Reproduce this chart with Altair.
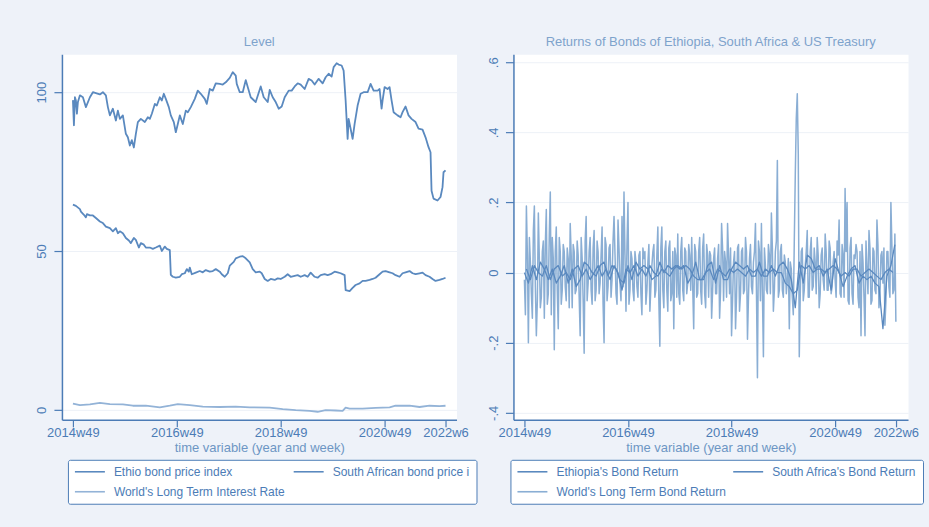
import altair as alt
import pandas as pd

# ---------------------------------------------------------------
# Styling
# ---------------------------------------------------------------
FONT = "Liberation Sans"
BG = "#eef2f9"
AXIS_BLUE = "#4c7cb6"
TITLE_BLUE = "#7ea3cc"
DARK = "#5a89bf"
LIGHT = "#8aaed4"
LIGHT_LEVEL = "#93b3d7"
GRID = "#edf1f7"

# Weeks are counted from 2014w49 (Stata weekly dates, 52 weeks a year)
X_TICKS = [0, 104, 208, 312, 373]
X_LABELS = ["2014w49", "2016w49", "2018w49", "2020w49", "2022w6"]

LEVEL_NAMES = ["Ethio bond price index", "South African bond price index",
               "World's Long Term Interest Rate"]
RETURN_NAMES = ["Ethiopia's Bond Return", "South Africa's Bond Return",
                "World's Long Term Bond Return"]

# ---------------------------------------------------------------
# Level series
# ---------------------------------------------------------------
ETH_WEEKS = [0, 1, 2, 3, 4, 5, 7, 10, 13, 17, 20, 23, 27, 30, 33, 35, 37, 40, 43, 45,
             47, 50, 53, 55, 57, 59, 61, 63, 65, 68, 72, 75, 77, 79, 82, 84, 87, 89, 91, 93,
             96, 98, 101, 103, 105, 107, 110, 113, 115, 118, 122, 125, 128, 132, 134, 137, 140, 143, 147, 150,
             153, 157, 160, 163, 164, 167, 170, 173, 175, 178, 183, 188, 191, 195, 197, 200, 203, 206, 209, 212,
             216, 219, 222, 225, 228, 232, 236, 239, 242, 246, 250, 253, 256, 259, 261, 264, 266, 269, 271, 273,
             275, 276, 278, 280, 282, 285, 288, 291, 295, 298, 301, 305, 307, 309, 310, 312, 315, 317, 319, 321,
             325, 328, 330, 333, 336, 339, 343, 346, 350, 353, 356, 358, 359, 361, 365, 368, 370, 371, 373]
ETH_LEVEL = [97.5, 89.6, 98.4, 97.4, 93.2, 96.9, 99.0, 98.4, 95.3, 98.4, 100.0, 99.7, 99.3, 100.0, 99.0, 95.3, 92.7, 94.8, 91.1, 94.2,
             91.6, 92.7, 86.9, 85.8, 83.2, 84.9, 82.6, 86.9, 90.6, 91.6, 90.6, 92.1, 91.6, 93.2, 96.3, 95.8, 98.4, 97.4, 99.5, 97.9,
             95.3, 92.7, 90.6, 87.4, 90.0, 92.7, 90.0, 94.2, 93.7, 95.3, 97.9, 100.5, 99.5, 97.9, 96.3, 101.0, 100.5, 102.8, 102.6, 102.4,
             103.1, 104.5, 106.3, 105.2, 102.6, 100.0, 100.0, 103.8, 101.6, 98.4, 96.9, 101.8, 98.4, 96.9, 100.7, 98.4, 96.9, 94.8, 95.5, 98.4,
             100.5, 100.5, 101.8, 102.8, 102.4, 101.0, 104.2, 103.7, 102.4, 104.2, 102.8, 104.7, 105.8, 104.9, 107.9, 109.1, 108.7, 108.4, 106.8, 97.4,
             85.3, 91.6, 88.5, 85.3, 90.0, 95.8, 99.5, 100.0, 100.0, 102.6, 100.5, 100.5, 101.0, 94.8, 97.4, 101.6, 101.0, 101.6, 97.4, 93.7,
             92.7, 92.1, 93.7, 95.5, 92.7, 91.6, 90.6, 88.5, 88.2, 85.8, 82.7, 81.1, 69.0, 66.5, 65.9, 67.0, 70.1, 74.8, 75.4]

SA_WEEKS = [0, 3, 7, 8, 11, 13, 14, 17, 20, 23, 27, 30, 33, 37, 40, 43, 45, 47, 50, 53,
            56, 58, 61, 63, 66, 68, 71, 73, 77, 80, 83, 87, 89, 92, 94, 97, 98, 100, 103, 107,
            109, 112, 114, 116, 117, 119, 123, 127, 130, 133, 137, 140, 143, 147, 149, 152, 155, 157, 161, 163,
            167, 170, 173, 177, 180, 183, 187, 189, 192, 195, 198, 202, 205, 208, 212, 215, 218, 222, 225, 228,
            232, 235, 238, 242, 245, 248, 252, 255, 258, 262, 265, 268, 272, 273, 277, 280, 283, 287, 290, 293,
            297, 300, 303, 307, 310, 313, 317, 320, 323, 327, 330, 333, 337, 340, 343, 347, 350, 353, 357, 360,
            363, 367, 370, 373]
SA_LEVEL = [64.6, 64.2, 63.2, 62.4, 61.4, 60.6, 61.6, 61.2, 61.2, 60.4, 59.3, 58.8, 57.7, 57.2, 56.2, 57.2, 55.6, 56.2, 55.6, 54.1,
            53.3, 52.5, 54.1, 53.5, 51.1, 52.5, 52.0, 51.1, 51.1, 50.7, 51.1, 51.7, 50.0, 51.4, 50.7, 50.3, 42.5, 41.9, 41.6, 41.9,
            42.7, 43.0, 44.3, 43.5, 44.8, 42.7, 43.2, 43.7, 43.3, 44.0, 43.5, 43.7, 44.3, 43.5, 42.7, 41.9, 43.0, 45.4, 46.6, 47.7,
            48.2, 48.4, 47.7, 46.4, 44.3, 43.3, 43.5, 43.0, 41.2, 40.6, 41.2, 40.9, 41.4, 41.2, 41.9, 42.7, 41.9, 42.2, 42.4, 41.9,
            42.4, 41.9, 43.2, 41.9, 41.6, 42.4, 42.7, 42.4, 42.7, 43.5, 43.3, 43.0, 42.4, 37.7, 37.4, 38.4, 39.3, 39.8, 40.6, 40.6,
            40.9, 41.2, 41.6, 42.7, 43.5, 43.7, 43.3, 43.0, 42.4, 41.9, 43.0, 43.3, 43.7, 43.0, 42.7, 43.0, 43.2, 42.4, 41.9, 41.2,
            40.6, 40.9, 41.2, 41.6]

RATE_WEEKS = [0, 7, 17, 27, 37, 50, 60, 73, 87, 97, 105, 117, 130, 147, 163, 177, 197, 210, 223, 237,
              245, 253, 263, 270, 273, 277, 290, 303, 317, 323, 337, 347, 357, 367, 373]
RATE_LEVEL = [2.0, 1.5, 1.7, 2.2, 1.8, 1.7, 1.3, 1.3, 0.8, 1.3, 1.8, 1.5, 1.0, 0.9, 1.0, 0.8, 0.7, 0.2, -0.1, -0.3,
              -0.6, -0.1, -0.2, -0.3, 0.7, 0.4, 0.4, 0.6, 0.8, 1.3, 1.3, 0.9, 1.3, 1.2, 1.3]

# ---------------------------------------------------------------
# Return series
# ---------------------------------------------------------------
ETH_RET_WEEKS = list(range(0, 373, 4))
ETH_RET = [0.00, -0.03, 0.02, -0.02, 0.03, 0.01, -0.02, 0.01, -0.03, -0.01,
           0.02, -0.03, 0.01, -0.04, -0.02, 0.03, 0.02, 0.00, -0.01, 0.02,
           0.03, -0.01, 0.02, 0.01, -0.02, -0.03, 0.02, -0.02, 0.03, 0.01,
           0.02, 0.01, -0.02, -0.01, 0.03, 0.00, 0.02, 0.01, 0.02, 0.01,
           0.02, -0.03, -0.01, 0.03, -0.02, -0.02, 0.02, 0.03, -0.03, 0.02,
           -0.02, -0.02, 0.01, 0.03, 0.02, 0.01, 0.02, -0.01, -0.01, 0.03,
           -0.01, -0.01, 0.02, -0.01, 0.02, 0.03, 0.01, -0.02, -0.10, 0.03,
           -0.03, 0.05, 0.04, 0.01, 0.02, -0.01, 0.01, -0.05, 0.04, 0.00,
           -0.04, -0.01, 0.01, 0.02, -0.03, -0.01, -0.02, -0.01, -0.03, -0.04,
           -0.16, -0.01, 0.02, 0.08]

SA_RET_WEEKS = list(range(2, 371, 4))
SA_RET = [0.01, -0.02, 0.02, 0.00, -0.01, 0.02, -0.02, 0.01, 0.02, -0.01,
          0.00, -0.02, 0.01, 0.02, -0.01, 0.01, -0.02, 0.00, 0.02, -0.01,
          0.01, -0.02, 0.02, 0.00, -0.05, 0.01, 0.00, 0.02, -0.01, 0.01,
          -0.01, 0.02, 0.00, -0.01, 0.01, 0.00, -0.01, 0.01, 0.02, 0.01,
          0.02, 0.01, -0.01, -0.02, -0.02, 0.00, 0.01, -0.02, 0.01, 0.00,
          -0.01, 0.01, 0.00, 0.01, 0.00, -0.01, 0.01, 0.00, 0.01, -0.01,
          0.01, 0.00, 0.01, 0.00, 0.00, -0.03, -0.04, -0.06, -0.05, 0.02,
          0.01, 0.02, 0.00, 0.01, 0.01, 0.00, 0.01, 0.02, 0.01, -0.01,
          0.00, -0.01, 0.01, 0.01, -0.01, 0.00, 0.01, 0.00, -0.01, -0.02,
          0.00, 0.01, 0.00]

# World long-term bond return: even weeks (plus the March-2020 spike weeks) ...
WORLD_RET_WEEKS = [0, 2, 4, 6, 8, 10, 12, 14, 16, 18, 20, 22, 24, 26, 28, 30, 32, 34, 36, 38,
                   40, 42, 44, 46, 48, 50, 52, 54, 56, 58, 60, 62, 64, 66, 68, 70, 72, 74, 76, 78,
                   80, 82, 84, 86, 88, 90, 92, 94, 96, 98, 100, 102, 104, 106, 108, 110, 112, 114, 116, 118,
                   120, 122, 124, 126, 128, 130, 132, 134, 136, 138, 140, 142, 144, 146, 148, 150, 152, 154, 156, 158,
                   160, 162, 164, 166, 168, 170, 172, 174, 176, 178, 180, 182, 184, 186, 188, 190, 192, 194, 196, 198,
                   200, 202, 204, 206, 208, 210, 212, 214, 216, 218, 220, 222, 224, 226, 228, 230, 232, 234, 236, 238,
                   240, 242, 244, 246, 248, 250, 252, 254, 256, 258, 260, 262, 264, 266, 268, 270, 272, 273, 274, 275,
                   276, 278, 280, 282, 284, 286, 288, 290, 292, 294, 296, 298, 300, 302, 304, 306, 308, 310, 312, 314,
                   316, 318, 320, 322, 324, 326, 328, 330, 332, 334, 336, 338, 340, 342, 344, 346, 348, 350, 352, 354,
                   356, 358, 360, 362, 364, 366, 368, 370, 372, 373]
WORLD_RET = [-0.02, 0.19, -0.20, 0.03, -0.13, 0.19, -0.18, 0.17, -0.10, 0.06, -0.13, 0.18, -0.06, 0.23, 0.10, -0.22, 0.13, -0.16, 0.06, -0.05,
             0.06, -0.08, 0.04, 0.14, -0.10, 0.06, -0.05, 0.05, -0.18, 0.04, -0.23, 0.16, -0.03, 0.10, -0.09, 0.12, -0.05, 0.06, -0.03, 0.13,
             -0.20, 0.08, -0.04, 0.08, -0.02, 0.16, -0.06, 0.15, -0.03, 0.16, 0.23, -0.11, 0.20, -0.05, 0.04, -0.08, 0.03, -0.07, 0.06, -0.12,
             0.04, -0.09, 0.03, -0.11, 0.02, 0.08, -0.05, 0.13, -0.21, 0.13, -0.10, 0.09, -0.11, 0.09, -0.06, -0.16, 0.05, 0.11, -0.09, 0.10,
             -0.08, 0.06, -0.03, 0.05, 0.10, -0.16, 0.06, -0.06, 0.10, -0.09, 0.11, -0.10, 0.05, 0.06, -0.13, 0.04, -0.06, 0.04, -0.13, 0.14,
             -0.08, 0.03, 0.14, -0.06, -0.18, 0.03, -0.16, 0.07, -0.11, 0.06, -0.06, 0.10, -0.19, 0.04, -0.04, 0.03, 0.14, -0.30, 0.06, 0.14,
             -0.24, 0.02, -0.06, 0.05, 0.17, -0.11, 0.06, 0.32, -0.05, 0.08, -0.07, 0.03, -0.02, -0.16, 0.01, -0.12, 0.28, 0.44, 0.51, 0.34,
             -0.24, 0.06, -0.08, 0.02, 0.12, -0.07, 0.10, -0.04, 0.03, 0.10, -0.10, 0.05, -0.02, 0.11, -0.05, 0.09, -0.06, 0.03, -0.02, 0.09,
             0.15, -0.07, 0.05, 0.24, 0.20, -0.09, 0.10, -0.09, 0.04, 0.06, -0.10, -0.18, 0.03, -0.18, 0.01, 0.12, -0.09, 0.07, -0.05, 0.15,
             -0.10, 0.05, -0.03, -0.15, 0.06, -0.04, 0.20, -0.06, 0.11, -0.14]

# ... and the odd weeks in between
WORLD_RET_ODD_WEEKS = list(range(1, 272, 2)) + list(range(277, 372, 2))
WORLD_RET_ODD = [-0.12, 0.05, 0.10, -0.06, 0.12, -0.04, -0.08, 0.04, -0.07, 0.09,
                 0.08, -0.09, 0.11, -0.12, 0.04, 0.06, -0.05, 0.10, -0.09, 0.08,
                 -0.04, 0.07, -0.10, 0.05, 0.08, -0.06, 0.09, -0.07, 0.10, -0.08,
                 0.09, -0.08, 0.06, -0.05, 0.07, -0.08, 0.09, -0.06, 0.05, -0.09,
                 0.10, -0.08, 0.07, -0.07, 0.09, 0.05, -0.09, 0.07, -0.08, -0.04,
                 0.05, 0.08, -0.09, 0.06, -0.05, 0.06, -0.04, 0.05, -0.06, 0.07,
                 0.06, -0.05, 0.08, -0.04, 0.06, -0.07, 0.05, -0.08, 0.07, -0.05,
                 0.06, -0.05, 0.07, -0.08, 0.06, 0.07, -0.07, -0.06, 0.06, -0.05,
                 0.07, -0.06, 0.08, -0.05, -0.04, 0.08, -0.07, 0.06, -0.05, 0.07,
                 -0.06, 0.08, -0.07, 0.05, -0.05, 0.07, -0.06, 0.08, -0.05, 0.07,
                 0.06, -0.07, 0.05, 0.07, -0.08, 0.06, -0.07, 0.08, -0.06, 0.07,
                 -0.05, 0.06, -0.07, 0.08, -0.06, 0.06, -0.05, 0.09, -0.08, -0.06,
                 0.07, -0.05, 0.08, -0.06, 0.07, -0.05, 0.09, -0.07, 0.06, -0.05,
                 0.05, -0.06, 0.04, 0.03, -0.07, 0.09,
                 -0.06, 0.07, -0.05, 0.06, -0.07, 0.06, -0.05, 0.07, -0.06, 0.05,
                 -0.06, 0.07, -0.05, 0.06, -0.05, 0.07, -0.04, 0.06, -0.07, 0.05,
                 -0.06, 0.08, -0.07, 0.06, -0.08, 0.07, -0.06, 0.05, 0.08, -0.07,
                 0.06, 0.08, -0.07, 0.09, -0.06, 0.07, -0.08, 0.06, -0.06, 0.08,
                 -0.07, 0.06, 0.07, -0.08, 0.06, -0.07, 0.08, -0.05]


def frame(weeks, values, name):
    return pd.DataFrame({"week": weeks, "value": values, "series": name})


level_df = pd.concat([
    frame(ETH_WEEKS, ETH_LEVEL, LEVEL_NAMES[0]),
    frame(SA_WEEKS, SA_LEVEL, LEVEL_NAMES[1]),
    frame(RATE_WEEKS, RATE_LEVEL, LEVEL_NAMES[2]),
], ignore_index=True)

world_df = pd.concat([
    frame(WORLD_RET_WEEKS, WORLD_RET, RETURN_NAMES[2]),
    frame(WORLD_RET_ODD_WEEKS, WORLD_RET_ODD, RETURN_NAMES[2]),
], ignore_index=True).sort_values("week")
country_df = pd.concat([
    frame(ETH_RET_WEEKS, ETH_RET, RETURN_NAMES[0]),
    frame(SA_RET_WEEKS, SA_RET, RETURN_NAMES[1]),
], ignore_index=True)


def label_expr(values, labels):
    parts = [f"abs(datum.value - ({v})) < 1e-6 ? '{t}'" for v, t in zip(values, labels)]
    return " : ".join(parts) + " : ''"


def x_encoding(domain):
    return alt.X(
        "week:Q",
        scale=alt.Scale(domain=domain, nice=False, zero=False),
        axis=alt.Axis(values=X_TICKS, labelExpr=label_expr(X_TICKS, X_LABELS),
                      title="time variable (year and week)", grid=False,
                      tickSize=7, labelPadding=0, titlePadding=2,
                      labelFlush=False, labelOverlap=False),
    )


def y_encoding(domain, ticks, labels):
    return alt.Y(
        "value:Q",
        scale=alt.Scale(domain=domain, nice=False, zero=False),
        axis=alt.Axis(values=ticks, labelExpr=label_expr(ticks, labels),
                      title=None, grid=True, tickSize=8, labelPadding=5,
                      labelAngle=270, labelAlign="center", labelBaseline="bottom"),
    )


# Legend key: a 30px horizontal stroke drawn from a small nominal symbol,
# so that the rows stay as tall as the text.
KEY_PATH = "M-1,0H5"
KEY_SIZE = 100


def legend(x_off, col_pad, expr=None):
    kw = dict(orient="none", legendX=x_off, legendY=406, columns=2,
              title=None, direction="horizontal", symbolType=KEY_PATH, symbolSize=KEY_SIZE,
              symbolStrokeWidth=1.6, labelOffset=28, columnPadding=col_pad, rowPadding=8,
              padding=6, fillColor="white", strokeColor=AXIS_BLUE, cornerRadius=2,
              labelFontSize=12, labelColor=AXIS_BLUE, labelFont=FONT, labelLimit=400)
    if expr:
        kw["labelExpr"] = expr
    return alt.Legend(**kw)


def panel_title(text):
    return alt.TitleParams(text, fontSize=13, color=TITLE_BLUE, font=FONT,
                           fontWeight="normal", anchor="middle", frame="group", offset=5)


# Left panel: price levels
level_color = alt.Color(
    "series:N",
    scale=alt.Scale(domain=LEVEL_NAMES, range=[DARK, DARK, LIGHT_LEVEL]),
    legend=legend(6, 4, "datum.label == 'South African bond price index' ? 'South African bond price i' : datum.label"),
)
left = alt.Chart(level_df).mark_line(strokeWidth=1.8, strokeJoin="round").encode(
    x=x_encoding([-11, 384]),
    y=y_encoding([-3.14, 111.95], [0, 50, 100], ["0", "50", "100"]),
    color=level_color,
).properties(width=395, height=366, title=panel_title("Level"))

# Right panel: weekly returns
ret_color = alt.Color(
    "series:N",
    scale=alt.Scale(domain=RETURN_NAMES, range=[DARK, DARK, LIGHT]),
    legend=legend(-3, 2),
)
RET_TICKS = [-0.4, -0.2, 0, 0.2, 0.4, 0.6]
RET_LABELS = ["-.4", "-.2", "0", ".2", ".4", ".6"]
ret_x = x_encoding([-11, 385.2])
ret_y = y_encoding([-0.42, 0.623], RET_TICKS, RET_LABELS)

world_layer = alt.Chart(world_df).mark_line(strokeWidth=1.5, strokeJoin="round").encode(
    x=ret_x, y=ret_y, color=ret_color)
country_layer = alt.Chart(country_df).mark_line(strokeWidth=1.3, strokeJoin="round").encode(
    x=ret_x, y=ret_y, color=ret_color)
right = alt.layer(world_layer, country_layer).properties(
    width=395, height=366,
    title=panel_title("Returns of Bonds of Ethiopia, South Africa & US Treasury"))

chart = alt.hconcat(left, right, spacing=57, bounds="flush").resolve_scale(
    color="independent"
).resolve_legend(color="independent").properties(
    background=BG,
    padding={"left": 35, "top": 35, "right": 5, "bottom": 23},
).configure_view(fill="white", stroke="transparent").configure_axis(
    labelFont=FONT, titleFont=FONT, labelFontSize=13, titleFontSize=13,
    labelColor=AXIS_BLUE, titleColor="#6d96c4", titleFontWeight="normal",
    domainColor=AXIS_BLUE, domainWidth=1.5, tickColor=AXIS_BLUE, tickWidth=1.2,
    gridColor=GRID, gridWidth=1,
)

chart.save("out.html", embed_options={"renderer": "svg", "actions": False})
